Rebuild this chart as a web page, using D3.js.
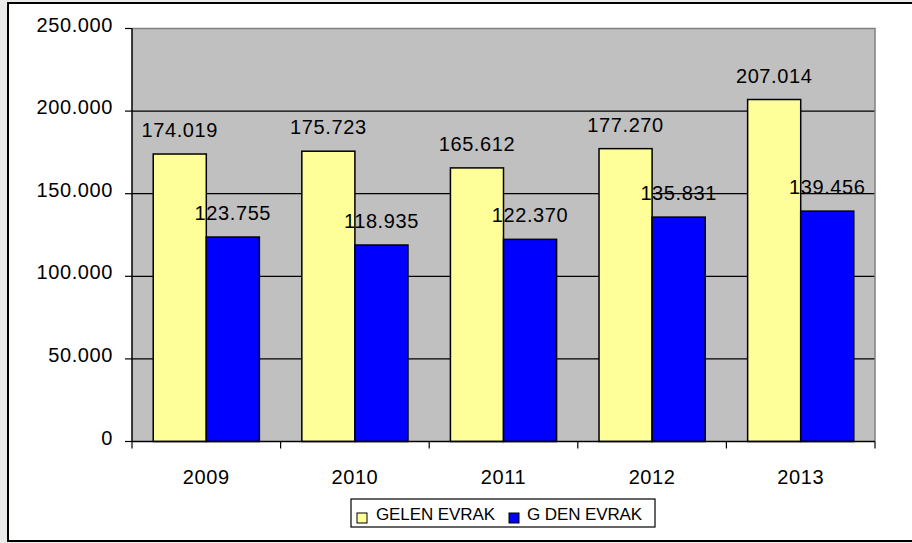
<!DOCTYPE html>
<html><head><meta charset="utf-8">
<script src="https://cdn.jsdelivr.net/npm/d3@7"></script>
<style>
html,body{margin:0;padding:0;background:#ebebe9;overflow:hidden}
svg{display:block;font-family:"Liberation Sans",Arial,sans-serif}
</style></head>
<body>
<svg id="c" width="912" height="543"></svg>
<script>
const categories = ["2009","2010","2011","2012","2013"];
const seriesNames = ["GELEN EVRAK","G DEN EVRAK"];
const gelen = [174019,175723,165612,177270,207014];
const giden = [123755,118935,122370,135831,139456];
const yTicks = [0,50000,100000,150000,200000,250000];

const colors = ["#ffff99","#0000ff"];
const series = [gelen, giden];

const svg = d3.select("#c");
const loc = d3.formatLocale({decimal:",",thousands:".",grouping:[3],currency:["",""]});
const fmt = loc.format(",");

// outer frame
svg.append("rect").attr("x",8).attr("y",3).attr("width",920).attr("height",538)
  .attr("fill","#fff").attr("stroke","#000").attr("stroke-width",2);

const L=132, R=875, T=28.5, B=441.5;
const x = d3.scaleBand().domain(categories).range([L,R]).paddingInner(0).paddingOuter(0);
const y = d3.scaleLinear().domain([0,250000]).range([B,T]);
const bw = x.bandwidth()/2.8;
const xs = d3.scaleBand().domain([0,1]).range([0, bw*2]);

// plot bg
svg.append("rect").attr("x",L).attr("y",T).attr("width",R-L).attr("height",B-T)
  .attr("fill","#c0c0c0");
// gridlines
svg.append("g").selectAll("line").data(yTicks.filter(d=>d>0 && d<250000)).join("line")
  .attr("x1",L).attr("x2",R).attr("y1",d=>y(d)).attr("y2",d=>y(d))
  .attr("stroke","#000").attr("stroke-width",1.2);
// plot border
svg.append("path").attr("d",`M${L},${T}H${R}V${B}`).attr("fill","none")
  .attr("stroke","#808080").attr("stroke-width",1.5);

// bars
series.forEach((s,si)=>{
  svg.append("g").selectAll("rect").data(s).join("rect")
    .attr("x",(d,i)=>x(categories[i]) + (x.bandwidth()-2*bw)/2 + xs(si))
    .attr("y",d=>y(d)).attr("width",bw).attr("height",d=>B-y(d))
    .attr("fill",colors[si]).attr("stroke","#000").attr("stroke-width",1.5);
});
// value labels
series.forEach((s,si)=>{
  svg.append("g").selectAll("text").data(s).join("text")
    .attr("x",(d,i)=>x(categories[i]) + (x.bandwidth()-2*bw)/2 + xs(si) + bw/2)
    .attr("y",d=>y(d)-17)
    .attr("text-anchor","middle").attr("font-size",20).attr("letter-spacing",0.6)
    .attr("fill","#000").text(d=>fmt(d));
});

// y axis
const ya = svg.append("g");
ya.append("line").attr("x1",L).attr("x2",L).attr("y1",T).attr("y2",B).attr("stroke","#000").attr("stroke-width",1.5);
ya.selectAll("line.t").data(yTicks).join("line").attr("class","t")
  .attr("x1",L-7).attr("x2",L).attr("y1",d=>y(d)).attr("y2",d=>y(d)).attr("stroke","#000").attr("stroke-width",1.2);
ya.selectAll("text").data(yTicks).join("text")
  .attr("x",113).attr("y",d=>y(d)+3).attr("text-anchor","end")
  .attr("font-size",20).attr("letter-spacing",0.6).text(d=>fmt(d));

// x axis
const xa = svg.append("g");
xa.append("line").attr("x1",L).attr("x2",R).attr("y1",B).attr("y2",B).attr("stroke","#000").attr("stroke-width",1.5);
const bounds = categories.map(c=>x(c)).concat([R]);
xa.selectAll("line.t").data(bounds).join("line").attr("class","t")
  .attr("x1",d=>d).attr("x2",d=>d).attr("y1",B).attr("y2",B+7).attr("stroke","#000").attr("stroke-width",1.2);
xa.selectAll("text").data(categories).join("text")
  .attr("x",d=>x(d)+x.bandwidth()/2).attr("y",484).attr("text-anchor","middle")
  .attr("font-size",20).attr("letter-spacing",0.6).text(d=>d);

// legend
const lg = svg.append("g");
lg.append("rect").attr("x",351).attr("y",499).attr("width",304).attr("height",28)
  .attr("fill","#fff").attr("stroke","#000").attr("stroke-width",1.2);
const lx = [357, 509], tx = [376, 527];
seriesNames.forEach((n,i)=>{
  lg.append("rect").attr("x",lx[i]).attr("y",513).attr("width",10).attr("height",10)
    .attr("fill",colors[i]).attr("stroke","#000").attr("stroke-width",1);
  lg.append("text").attr("x",tx[i]).attr("y",520).attr("font-size",17).attr("letter-spacing",-0.1).text(n);
});
</script>
</body></html>
